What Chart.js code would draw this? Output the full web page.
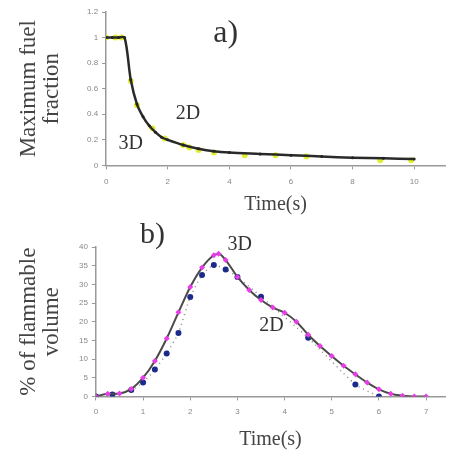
<!DOCTYPE html>
<html>
<head>
<meta charset="utf-8">
<script src="https://cdn.jsdelivr.net/npm/chart.js@4/dist/chart.umd.min.js"></script>
<style>
  html, body { margin: 0; padding: 0; background: #fff; }
  #wrap { position: relative; width: 449px; height: 450px; overflow: hidden; }
  #wrap div { position: absolute; left: 0; width: 449px; }
</style>
</head>
<body>
<div id="wrap">
  <div style="top:0;height:215px"><canvas id="fuelChart"></canvas></div>
  <div style="top:205px;height:245px"><canvas id="volChart"></canvas></div>
</div>
<script>
// ---- a) maximum fuel fraction ----
const fuelTime3D = [0, 0.2, 0.4, 0.6, 0.8, 1, 1.2, 1.4, 1.6, 1.8, 2, 2.5, 3, 3.5, 4, 5, 6, 7, 8, 9, 10];
const fuel3D = [1, 1, 1, 1, 0.67, 0.48, 0.38, 0.31, 0.26, 0.22, 0.2, 0.16, 0.13, 0.11, 0.1, 0.09, 0.08, 0.07, 0.06, 0.055, 0.05];
const fuelTime2D = [0, 0.3, 0.5, 0.8, 1, 1.5, 1.9, 2.5, 2.7, 3, 3.5, 4.5, 5.5, 6.5, 8.9, 9.9];
const fuel2D = [1, 1, 1, 0.66, 0.47, 0.29, 0.21, 0.16, 0.14, 0.12, 0.1, 0.08, 0.08, 0.07, 0.04, 0.04];
const fuelXTicks = [0, 2, 4, 6, 8, 10];

// ---- b) % of flammable volume ----
const volTime3D = [0, 0.25, 0.5, 0.75, 1, 1.25, 1.5, 1.75, 2, 2.25, 2.5, 2.6, 2.75, 3, 3.25, 3.5, 3.75, 4, 4.25, 4.5, 4.75, 5, 5.25, 5.5, 5.75, 6, 6.25, 6.5, 6.75, 7];
const vol3D = [0, 0.7, 0.8, 2, 5, 9.5, 15.5, 22.5, 29.3, 34.5, 37.8, 38.2, 36.5, 32, 28.5, 25.8, 23.8, 22.4, 20, 16.5, 13.5, 10.8, 8.2, 5.9, 3.7, 1.9, 0.7, 0.2, 0, 0];
const volTime2D = [0, 0.35, 0.75, 1, 1.25, 1.5, 1.75, 2, 2.25, 2.5, 2.75, 3, 3.5, 4.5, 5.5, 6];
const vol2D = [0, 0.5, 1.7, 3.7, 7.2, 11.5, 17, 26.6, 32.5, 35.2, 34, 32, 26.7, 15.7, 3.2, 0];
const volXTicks = [0, 1, 2, 3, 4, 5, 6, 7];

// text labels, placed in data units
const fuelNotes = [
  { text: 'a)', x: 3.88, y: 1.03, size: 32 },
  { text: '3D', x: 0.8, y: 0.167, size: 20 },
  { text: '2D', x: 2.66, y: 0.405, size: 20 }
];
const volNotes = [
  { text: 'b)', x: 1.2, y: 43.2, size: 30 },
  { text: '3D', x: 3.05, y: 40.5, size: 20 },
  { text: '2D', x: 3.72, y: 18.9, size: 20 }
];

const serif = '"Liberation Serif", "DejaVu Serif", serif';
const tickFont = { family: '"Liberation Sans", sans-serif', size: 8 };

function pairs(xs, ys) {
  return xs.map((x, i) => ({ x: x, y: ys[i] }));
}

const notesPlugin = {
  id: 'notes',
  afterDraw(chart, args, opts) {
    const ctx = chart.ctx;
    ctx.save();
    ctx.fillStyle = '#333';
    ctx.textAlign = 'center';
    ctx.textBaseline = 'middle';
    (opts.items || []).forEach(n => {
      ctx.font = n.size + 'px ' + serif;
      ctx.fillText(n.text, chart.scales.x.getPixelForValue(n.x), chart.scales.y.getPixelForValue(n.y));
    });
    ctx.restore();
  }
};

function axis(opts) {
  return Object.assign({
    type: 'linear',
    border: { color: '#999', width: 1.5 },
    grid: { display: true, drawOnChartArea: false, color: '#999', tickLength: 4 },
    ticks: { color: '#888', font: tickFont }
  }, opts);
}

new Chart(document.getElementById('fuelChart'), {
  type: 'line',
  data: {
    datasets: [{
      label: '3D',
      data: pairs(fuelTime3D, fuel3D),
      borderColor: '#2a2a2a',
      borderWidth: 2.5,
      pointRadius: 1.5,
      pointBackgroundColor: '#222',
      pointBorderWidth: 0,
      tension: 0.3
    }, {
      label: '2D',
      data: pairs(fuelTime2D, fuel2D),
      showLine: false,
      pointRadius: 3,
      pointBackgroundColor: '#e2ee30',
      pointBorderWidth: 0
    }]
  },
  options: {
    responsive: true,
    maintainAspectRatio: false,
    animation: false,
    layout: { padding: { top: 12, left: 5, right: 1, bottom: 0 } },
    plugins: { legend: { display: false }, tooltip: { enabled: false }, notes: { items: fuelNotes } },
    scales: {
      x: axis({
        min: 0, max: 11,
        afterBuildTicks: s => { s.ticks = fuelXTicks.map(v => ({ value: v })); },
        ticks: { color: '#888', font: tickFont, padding: 8, maxRotation: 0 },
        title: { display: true, text: 'Time(s)', color: '#444', font: { family: serif, size: 20, lineHeight: 1 }, padding: { top: 0, bottom: 0 } }
      }),
      y: axis({
        min: 0, max: 1.2,
        ticks: { color: '#888', font: tickFont, stepSize: 0.2, padding: 4, callback: v => String(Math.round(v * 10) / 10) },
        title: { display: true, text: ['Maximum fuel', 'fraction'], color: '#444', font: { family: serif, size: 23, lineHeight: 1 }, padding: { top: 12, bottom: 20 } }
      })
    }
  },
  plugins: [notesPlugin]
});

new Chart(document.getElementById('volChart'), {
  type: 'line',
  data: {
    datasets: [{
      label: '3D',
      data: pairs(volTime3D, vol3D),
      borderColor: '#4a4a4a',
      borderWidth: 2,
      pointRadius: 3,
      pointStyle: 'rectRot',
      pointBackgroundColor: '#e83ce8',
      pointBorderWidth: 0,
      cubicInterpolationMode: 'monotone'
    }, {
      label: '2D',
      data: pairs(volTime2D, vol2D),
      borderColor: '#8a8a8a',
      borderWidth: 1.5,
      borderDash: [1, 4],
      pointRadius: 3,
      pointBackgroundColor: '#1c2a8c',
      pointBorderWidth: 0,
      tension: 0.2
    }]
  },
  options: {
    responsive: true,
    maintainAspectRatio: false,
    animation: false,
    layout: { padding: { top: 42, left: 5, right: 1, bottom: 0 } },
    plugins: { legend: { display: false }, tooltip: { enabled: false }, notes: { items: volNotes } },
    scales: {
      x: axis({
        min: 0, max: 7.4,
        afterBuildTicks: s => { s.ticks = volXTicks.map(v => ({ value: v })); },
        ticks: { color: '#888', font: tickFont, padding: 7, maxRotation: 0 },
        title: { display: true, text: 'Time(s)', color: '#444', font: { family: serif, size: 20, lineHeight: 1 }, padding: { top: 6, bottom: 0 } }
      }),
      y: axis({
        min: 0, max: 40,
        ticks: { color: '#888', font: tickFont, stepSize: 5, padding: 4 },
        title: { display: true, text: ['% of flammable', 'volume'], color: '#444', font: { family: serif, size: 23, lineHeight: 1 }, padding: { top: 12, bottom: 12 } }
      })
    }
  },
  plugins: [notesPlugin]
});
</script>
</body>
</html>
